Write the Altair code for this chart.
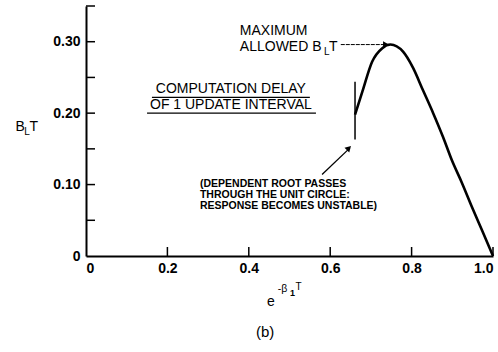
import altair as alt
import pandas as pd

# ---- data ----
curve_x = [0.661, 0.679, 0.703, 0.728, 0.748, 0.779, 0.803, 0.828, 0.853, 0.877, 0.899, 0.924, 0.948, 0.973, 1.0]
curve_y = [0.198, 0.230, 0.272, 0.291, 0.296, 0.286, 0.264, 0.232, 0.200, 0.167, 0.134, 0.102, 0.069, 0.036, 0.0]

delay_x = [0.661, 0.661]
delay_y = [0.163, 0.244]

x_label_values = [0, 0.2, 0.4, 0.6, 0.8, 1.0]
x_tick_values = [0.2, 0.4, 0.6, 0.8, 1.0]
y_label_values = [0, 0.1, 0.2, 0.3]
y_tick_values = [0.05, 0.10, 0.15, 0.20, 0.25, 0.30, 0.35]

# annotation texts (positions in data units)
big_text = ["MAXIMUM", "ALLOWED B", "T"]
big_x = [0.378, 0.378, 0.597]
big_y = [0.315, 0.293, 0.293]

sub_text = ["L"]
sub_x = [0.585]
sub_y = [0.286]

delay_text = ["COMPUTATION DELAY", "OF 1 UPDATE INTERVAL"]
delay_tx = [0.356, 0.356]
delay_ty = [0.2335, 0.2115]
underline_x1 = [0.162, 0.150]
underline_x2 = [0.550, 0.565]
underline_y = [0.222, 0.2000]

note_text = ["(DEPENDENT ROOT PASSES", "THROUGH THE UNIT CIRCLE:", "RESPONSE BECOMES UNSTABLE)"]
note_x = [0.280, 0.280, 0.280]
note_y = [0.1008, 0.0854, 0.0700]

arrow1_x = [0.626, 0.737]
arrow1_y = [0.296, 0.296]
arrow1_head = (0.737, 0.296)
arrow2_x = [0.580, 0.648]
arrow2_y = [0.114, 0.151]
arrow2_head = (0.646, 0.151)

FONT = "Liberation Sans"
X = alt.Scale(domain=[0, 1], nice=False, zero=False)
Y = alt.Scale(domain=[0, 0.35], nice=False, zero=False)

x_axis = alt.Axis(values=x_label_values,
                  labelExpr="datum.value == 0 ? '0' : format(datum.value, '.1f')",
                  ticks=False, grid=False, domainColor="black", domainWidth=2,
                  labelFont=FONT, labelFontSize=14, labelColor="black",
                  labelFontWeight="bold", labelPadding=5, title=None)
y_axis = alt.Axis(values=y_label_values,
                  labelExpr="datum.value == 0 ? '0' : format(datum.value, '.2f')",
                  ticks=False, grid=False, domainColor="black", domainWidth=2,
                  labelFont=FONT, labelFontSize=14, labelColor="black",
                  labelFontWeight="bold", labelPadding=6, title=None)


def xe(f="x"):
    return alt.X(f"{f}:Q", scale=X, axis=x_axis)


def ye(f="y"):
    return alt.Y(f"{f}:Q", scale=Y, axis=y_axis)


curve_df = pd.DataFrame({"x": curve_x, "y": curve_y})
curve = alt.Chart(curve_df).mark_line(color="black", strokeWidth=2.6, interpolate="monotone").encode(
    x=xe(), y=ye())

delay_df = pd.DataFrame({"x": delay_x, "y": delay_y})
delay_line = alt.Chart(delay_df).mark_line(color="black", strokeWidth=1.5).encode(x=xe(), y=ye())

xt_df = pd.DataFrame({"x": x_tick_values, "y": [0] * len(x_tick_values)})
x_ticks = alt.Chart(xt_df).mark_rule(color="black", strokeWidth=1.5).encode(
    x=xe(), y=ye(), y2=alt.value(241))

yt_df = pd.DataFrame({"y": y_tick_values, "x": [0] * len(y_tick_values)})
y_ticks = alt.Chart(yt_df).mark_rule(color="black", strokeWidth=1.5).encode(
    y=ye(), x=xe(), x2=alt.value(9))


def text_layer(texts, xs, ys, size, weight="normal", align="left"):
    df = pd.DataFrame({"t": texts, "x": xs, "y": ys})
    return alt.Chart(df).mark_text(font=FONT, fontSize=size, fontWeight=weight, align=align,
                                   baseline="middle", color="black").encode(
        x=xe(), y=ye(), text="t:N")


big = text_layer(big_text, big_x, big_y, 14)
sub = text_layer(sub_text, sub_x, sub_y, 10)
delay_t = text_layer(delay_text, delay_tx, delay_ty, 14, align="center")
note = text_layer(note_text, note_x, note_y, 10.5, weight="bold")

ul_df = pd.DataFrame({"x": underline_x1, "x2": underline_x2, "y": underline_y})
underline = alt.Chart(ul_df).mark_rule(color="black", strokeWidth=1.2).encode(
    x=xe(), x2="x2:Q", y=ye())

a1_df = pd.DataFrame({"x": arrow1_x, "y": arrow1_y})
arrow1 = alt.Chart(a1_df).mark_line(color="black", strokeWidth=1, strokeDash=[4, 1]).encode(x=xe(), y=ye())
a2_df = pd.DataFrame({"x": arrow2_x, "y": arrow2_y})
arrow2 = alt.Chart(a2_df).mark_line(color="black", strokeWidth=1.3).encode(x=xe(), y=ye())

h1_df = pd.DataFrame({"x": [arrow1_head[0]], "y": [arrow1_head[1]]})
head1 = alt.Chart(h1_df).mark_point(shape="triangle-right", filled=True, color="black", size=45, opacity=1).encode(
    x=xe(), y=ye())
h2_df = pd.DataFrame({"x": [arrow2_head[0]], "y": [arrow2_head[1]]})
head2 = alt.Chart(h2_df).mark_point(shape="triangle-up", angle=45, filled=True, color="black", size=45, opacity=1).encode(
    x=xe(), y=ye())

# axis titles built from pieces (sub/superscripts)
ytitle_big = text_layer(["B", "T"], [-0.162, -0.128], [0.180, 0.180], 14, align="center")
ytitle_sub = text_layer(["L"], [-0.145], [0.173], 10, align="center")
xtitle_e = text_layer(["e"], [0.4545], [-0.064], 14, align="center")
xtitle_sup = text_layer(["-β"], [0.471], [-0.046], 10.5, align="left")
xtitle_sub = text_layer(["1"], [0.501], [-0.052], 9, weight="bold", align="left")
xtitle_t = text_layer(["T"], [0.515], [-0.044], 10, align="left")
caption = text_layer(["(b)"], [0.44], [-0.106], 15, align="center")

chart = alt.layer(
    curve, delay_line, x_ticks, y_ticks, big, sub, delay_t, note, underline,
    arrow1, arrow2, head1, head2, ytitle_big, ytitle_sub, xtitle_e, xtitle_sup,
    xtitle_sub, xtitle_t, caption,
).properties(
    width=407, height=250,
    autosize=alt.AutoSizeParams(type="none"),
    padding={"left": 86, "top": 6, "right": 5, "bottom": 96},
    background="white",
).configure_view(stroke=None)

chart.save("out.html", embed_options={"renderer": "svg", "actions": False})
